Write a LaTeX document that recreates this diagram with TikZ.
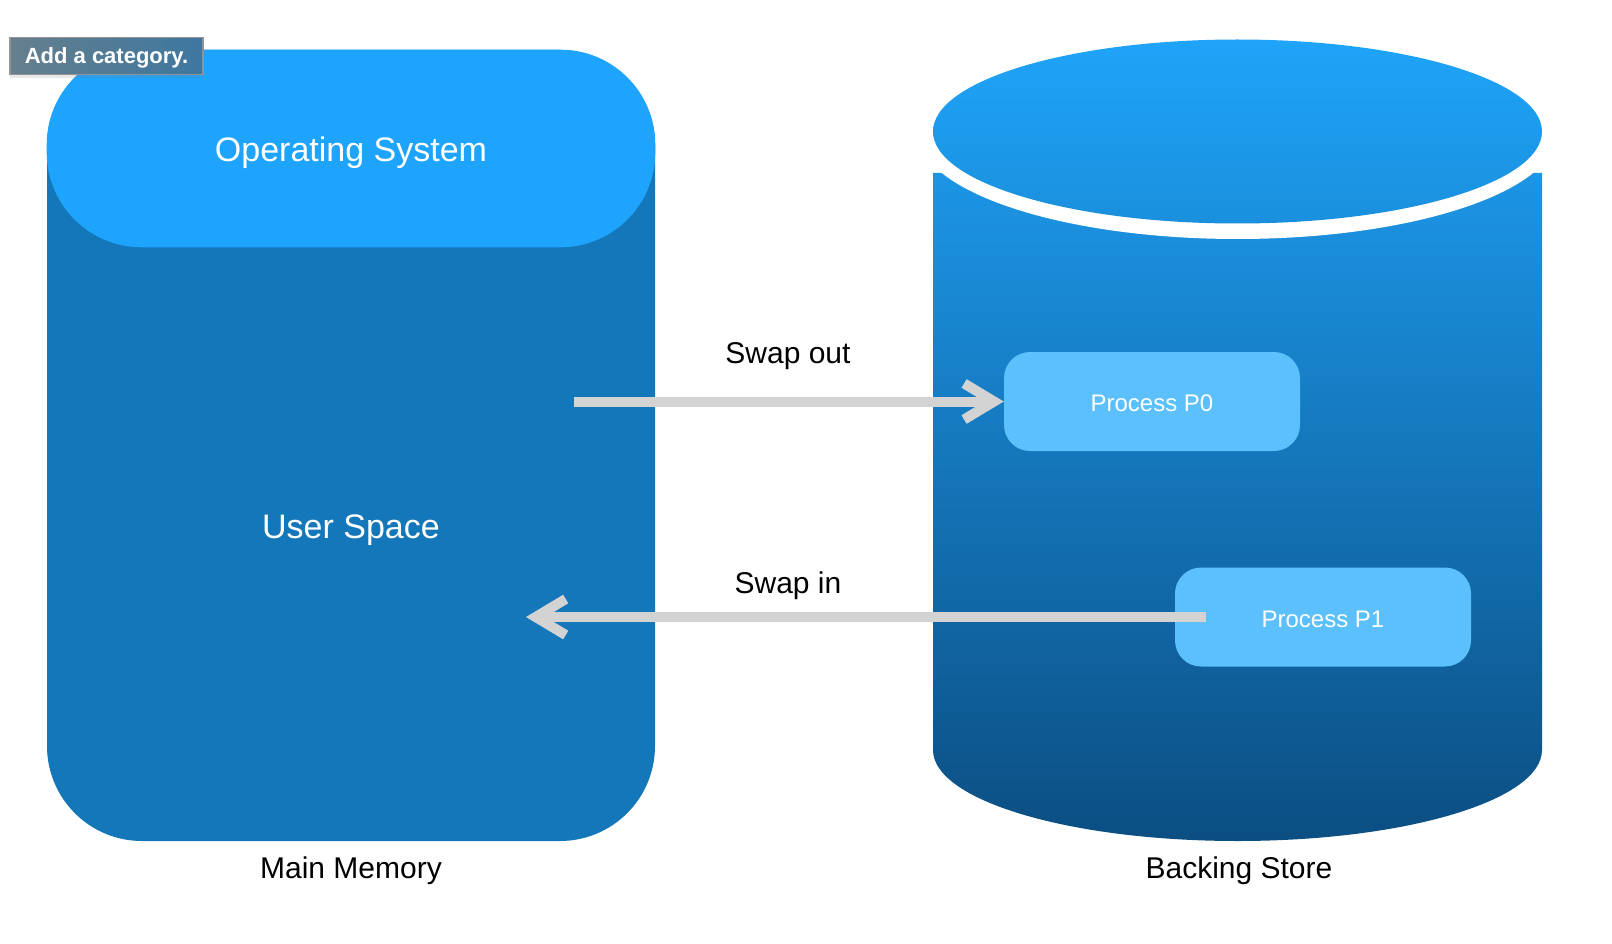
\documentclass[tikz,border=0pt]{standalone}
\usepackage{fontspec}
\setmainfont{Liberation Sans}
\usetikzlibrary{arrows.meta,shadows}
\definecolor{osblue}{HTML}{1EA4FC}
\definecolor{mmblue}{HTML}{1477B9}
\definecolor{procblue}{HTML}{5BC0FC}
\definecolor{arrowgray}{HTML}{D3D3D3}
\definecolor{cyltop}{HTML}{1FA4F9}
\definecolor{cylcap}{HTML}{1A90DD}
\definecolor{cylbody}{HTML}{1C95E5}
\definecolor{cylbot}{HTML}{0B4E82}
\definecolor{tagleft}{HTML}{667F8D}
\definecolor{tagright}{HTML}{3D77A0}
\tikzset{
  bigtext/.style={text=white, font=\fontsize{34}{40}\selectfont},
  captext/.style={text=black, font=\fontsize{30}{36}\selectfont},
  proctext/.style={text=white, font=\fontsize{24}{28}\selectfont},
  procbox/.style={fill=procblue, rounded corners=26pt, minimum width=296pt, minimum height=99pt, inner sep=0pt},
  swaparrow/.style={draw=arrowgray, line width=10pt, -{Straight Barb[length=30pt,width=36pt]}},
}
\begin{document}
\begin{tikzpicture}[x=1pt,y=-1pt]
\useasboundingbox (0,0) rectangle (1612,944);
% Main memory
\node[fill=mmblue, rounded corners=95pt, minimum width=608pt, minimum height=791pt, inner sep=0pt] (mm) at (351,445.5) {};
\node[fill=osblue, rounded corners=95pt, minimum width=608.6pt, minimum height=197.6pt, inner sep=0pt] (os) at (351,148.5) {};
\node[bigtext] (ostext) at (351,153) {Operating System};
\node[bigtext] (us) at (351,530) {User Space};
\node[captext] (mmlabel) at (351,870.5) {Main Memory};
% Backing store cylinder
\shade[top color=cylbody, bottom color=cylbot] (933,173) -- (933,750) arc[start angle=180, end angle=360, x radius=304.5pt, y radius=91pt] -- (1542,173) -- cycle;
\fill[white] (1237.5,132) ellipse[x radius=320pt, y radius=107pt];
\shade[top color=cyltop, bottom color=cylcap] (1237.5,131.5) ellipse[x radius=304.5pt, y radius=92pt];
\node[captext] (bslabel) at (1239,870.5) {Backing Store};
% Processes
\node[procbox] (p0) at (1152,401.5) {};
\node[proctext] (p0text) at (1152,403.5) {Process P0};
\node[procbox] (p1) at (1323,617) {};
\node[proctext] (p1text) at (1323,619) {Process P1};
% Arrows
\coordinate (sostart) at (574,401.5);
\draw[swaparrow] (sostart) -- (p0.west);
\node[captext] (solabel) at (788,356.5) {Swap out};
\coordinate (sistart) at (1206,617);
\coordinate (siend) at (526,617);
\draw[swaparrow] (sistart) -- (siend);
\node[captext] (silabel) at (788,585.5) {Swap in};
% Tag
\node[draw=gray!85, line width=1.2pt, left color=tagleft, right color=tagright, minimum width=193pt, minimum height=37pt, inner sep=0pt, text=white, drop shadow={shadow xshift=0pt, shadow yshift=-4pt, opacity=0.18}] (tag) at (106.5,56) {};
\node[text=white, font=\bfseries\fontsize{22}{26}\selectfont] (tagtext) at (106.5,58) {Add a category.};
\end{tikzpicture}
\end{document}
